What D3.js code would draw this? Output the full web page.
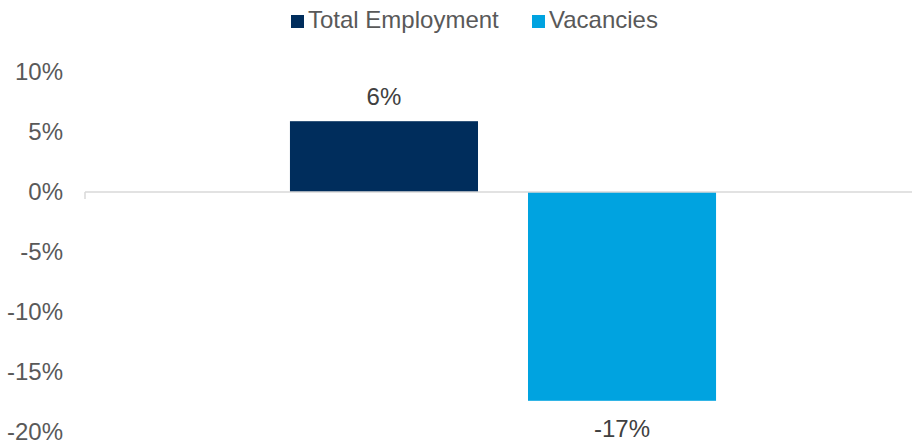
<!DOCTYPE html>
<html><head><meta charset="utf-8">
<script src="https://cdn.jsdelivr.net/npm/d3@7"></script>
<style>
html,body{margin:0;padding:0;background:#fff;}
svg{display:block;font-family:"Liberation Sans",Arial,sans-serif;}
</style></head>
<body>
<svg id="chart" width="912" height="447"></svg>
<script>
const categories = [""];
const seriesNames = ["Total Employment", "Vacancies"];
const seriesValues = [5.9, -17.4];
const seriesLabels = ["6%", "-17%"];
const seriesColors = ["#002D5C", "#00A3E0"];
const yTicks = [10, 5, 0, -5, -10, -15, -20];

const svg = d3.select("#chart");
const y = d3.scaleLinear().domain([-20, 10]).range([432, 72]);
const x0 = d3.scaleBand().domain(categories).range([85, 921]).paddingOuter(0.481);
const x1 = d3.scaleBand().domain(seriesNames).range([0, x0.bandwidth()]).paddingInner(0.21).paddingOuter(0);

// y tick labels
const yAxis = d3.axisLeft(y).tickValues(yTicks).tickSize(0).tickPadding(0).tickFormat(d => d + "%");
const ya = svg.append("g").attr("transform", "translate(63,0)").call(yAxis);
ya.select(".domain").remove();
ya.selectAll("text").attr("fill", "#595959").style("font-size", "24px").style("font-family", '"Liberation Sans",Arial,sans-serif');

// bars
const data = seriesNames.map((s, i) => ({s, v: seriesValues[i], label: seriesLabels[i], c: seriesColors[i]}));
const g = svg.append("g").attr("transform", `translate(${x0(categories[0])},0)`);
g.selectAll("rect").data(data).join("rect")
  .attr("x", d => x1(d.s))
  .attr("width", x1.bandwidth())
  .attr("y", d => y(Math.max(0, d.v)))
  .attr("height", d => Math.abs(y(d.v) - y(0)))
  .attr("fill", d => d.c);

g.selectAll("text.lbl").data(data).join("text").attr("class", "lbl")
  .attr("x", d => x1(d.s) + x1.bandwidth() / 2)
  .attr("y", d => d.v >= 0 ? y(d.v) - 16 : y(d.v) + 36)
  .attr("text-anchor", "middle")
  .attr("fill", "#404040")
  .style("font-size", "24px")
  .text(d => d.label);

// zero line
svg.append("line").attr("x1", 85).attr("x2", 912).attr("y1", y(0)).attr("y2", y(0))
  .attr("stroke", "#d9d9d9").attr("stroke-width", 1.5);
svg.append("line").attr("x1", 85).attr("x2", 85).attr("y1", y(0)).attr("y2", y(0) + 7)
  .attr("stroke", "#d9d9d9").attr("stroke-width", 1.5);

// legend
const legendX = [291, 532];
const lg = svg.append("g");
const li = lg.selectAll("g").data(data).join("g").attr("transform", (d, i) => `translate(${legendX[i]},0)`);
li.append("rect").attr("x", 0).attr("y", 15).attr("width", 13).attr("height", 13).attr("fill", d => d.c);
li.append("text").attr("x", 17).attr("y", 28.3).attr("fill", "#595959").style("font-size", "24px").text(d => d.s);
</script>
</body></html>
